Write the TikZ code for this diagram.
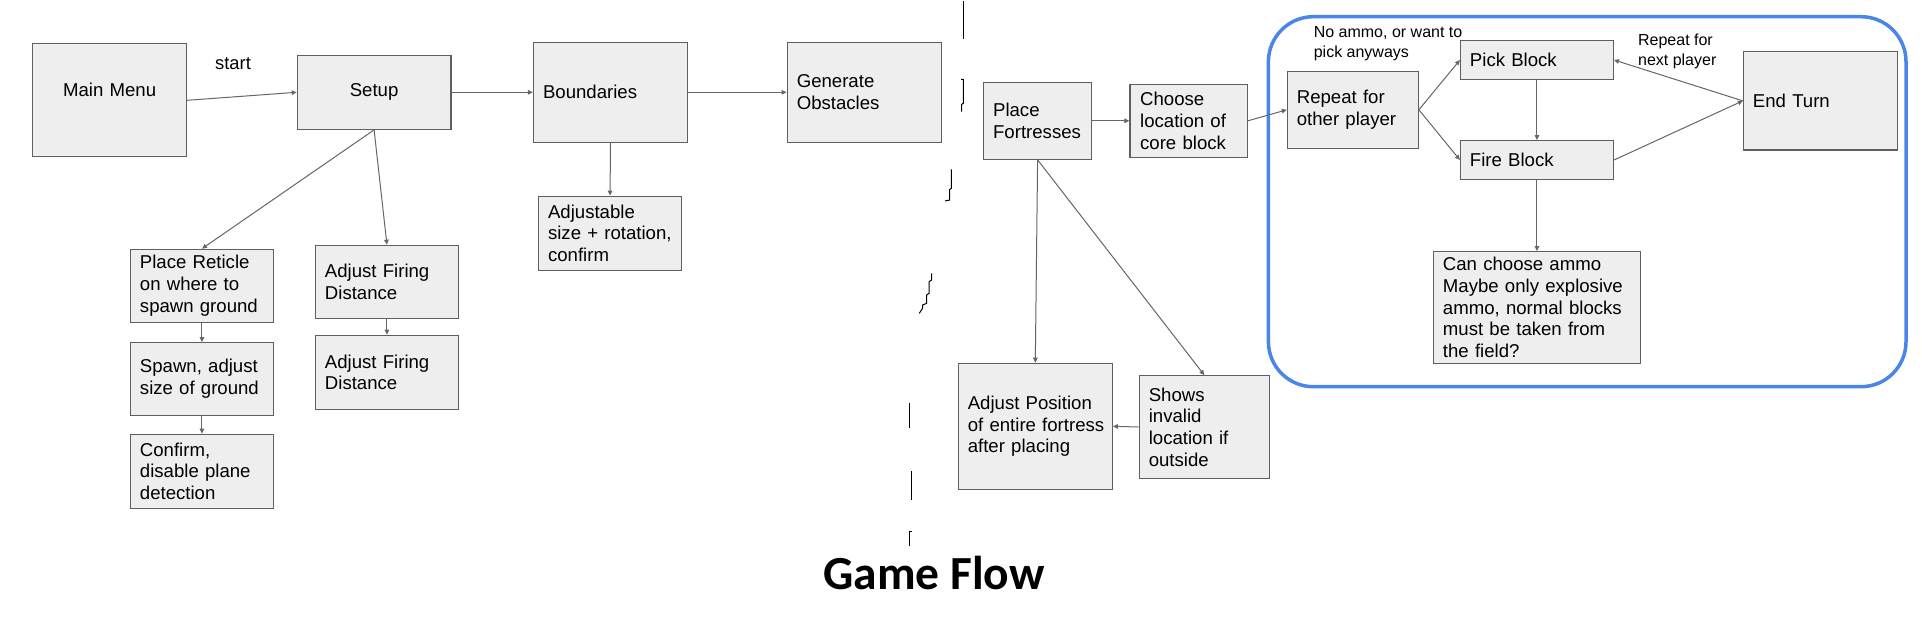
\documentclass[tikz,border=0pt]{standalone}
\usepackage{fontspec}
\setmainfont{Liberation Sans}
\newfontfamily\titlefont{Carlito}
\usetikzlibrary{arrows.meta}
\definecolor{boxfill}{HTML}{EEEEEE}
\definecolor{boxline}{HTML}{5F5F5F}
\definecolor{arrowc}{HTML}{666666}
\definecolor{loopblue}{HTML}{4A86E8}
\tikzset{
  box/.style={draw=boxline, fill=boxfill, line width=1.2pt, rectangle,
    inner xsep=0pt, inner ysep=0pt, align=left,
    font=\fontsize{18.6}{21.7}\selectfont},
  cbox/.style={box, align=center},
  arr/.style={draw=arrowc, line width=1pt, -{Triangle[length=5pt,width=4.5pt]}},
  lbl/.style={inner sep=0pt, align=left, font=\fontsize{16}{19.4}\selectfont},
  penmark/.style={draw=black, line width=1pt}
}
\begin{document}
\begin{tikzpicture}[x=1pt,y=-1pt]
\useasboundingbox[fill=white] (0,0) rectangle (1922,620);

% loop frame
\draw[loopblue, line width=3.5pt, rounded corners=45pt] (1268.4,16.7) rectangle (1906,386.7);

% boxes
\node[cbox, minimum width=154pt, minimum height=113pt, text width=135pt] (mainmenu) at (109.6,100.3) {Main Menu\\\phantom{M}};
\node[cbox, minimum width=153.6pt, minimum height=74pt, text width=134pt] (setup) at (374.1,92.3) {\raisebox{-2pt}{Setup}};
\node[box, minimum width=154pt, minimum height=100pt, text width=135pt] (bound) at (610.5,92.3) {\raisebox{-1.5pt}{Boundaries}};
\node[box, minimum width=154.2pt, minimum height=100pt, text width=135pt] (gen) at (864.3,92.3) {Generate\\Obstacles};
\node[box, minimum width=143.1pt, minimum height=74pt, text width=124pt] (adjust) at (610.05,233.3) {Adjustable\\\mbox{size + rotation,}\\confirm};
\node[box, minimum width=142.7pt, minimum height=73pt, text width=124pt] (reticle) at (201.95,285.8) {Place Reticle\\on where to\\\mbox{spawn ground}};
\node[box, minimum width=142.7pt, minimum height=72.6pt, text width=124pt] (spawn) at (201.95,379) {\mbox{Spawn, adjust}\\\mbox{size of ground}};
\node[box, minimum width=142.7pt, minimum height=74pt, text width=124pt] (confirm) at (201.95,471.3) {Confirm,\\\mbox{disable plane}\\detection};
\node[box, minimum width=143.1pt, minimum height=73pt, text width=124pt] (afdA) at (386.95,281.8) {Adjust Firing\\Distance};
\node[box, minimum width=143.1pt, minimum height=74pt, text width=124pt] (afdB) at (386.95,372.3) {Adjust Firing\\Distance};
\node[box, minimum width=107.8pt, minimum height=77pt, text width=89pt] (place) at (1037.6,120.8) {Place\\Fortresses};
\node[box, minimum width=117.3pt, minimum height=73pt, text width=97pt] (choose) at (1188.65,120.8) {Choose\\\mbox{location of}\\\mbox{core block}};
\node[box, minimum width=130.9pt, minimum height=77pt, text width=112pt] (repeat) at (1352.85,109.8) {Repeat for\\\mbox{other player}};
\node[box, minimum width=152.9pt, minimum height=38.6pt, text width=134pt] (pick) at (1536.95,60) {Pick Block};
\node[box, minimum width=152.9pt, minimum height=38.6pt, text width=134pt] (fire) at (1536.95,160) {Fire Block};
\node[box, minimum width=154.1pt, minimum height=98.3pt, text width=135pt] (endturn) at (1820.45,100.85) {\raisebox{-1.5pt}{End Turn}};
\node[box, minimum width=206.9pt, minimum height=111.6pt, text width=188pt] (ammo) at (1536.95,307.5) {\mbox{Can choose ammo}\\\mbox{Maybe only explosive}\\\mbox{ammo, normal blocks}\\\mbox{must be taken from}\\the field?};
\node[box, minimum width=154pt, minimum height=126pt, text width=135pt] (adjpos) at (1035.3,426.3) {\mbox{Adjust Position}\\\mbox{of entire fortress}\\\mbox{after placing}};
\node[box, minimum width=130pt, minimum height=102.6pt, text width=111pt] (shows) at (1204.3,427) {Shows\\invalid\\\mbox{location if}\\outside};

% labels
\node[lbl, font=\fontsize{18.4}{21}\selectfont] (startlbl) at (233,63.3) {start};
\node[lbl, anchor=west] (noammo) at (1313.6,43.5) {No ammo, or want to\\pick anyways};
\node[lbl, anchor=west] (nextpl) at (1637.9,51.2) {Repeat for\\next player};

% connectors
\draw[arr] (mainmenu.east) -- (setup.west);
\draw[arr] (setup.east) -- (bound.west);
\draw[arr] (bound.east) -- (gen.west);
\draw[arr] (bound.south) -- (adjust.north);
\draw[arr] (setup.south) -- (reticle.north);
\draw[arr] (setup.south) -- (afdA.north);
\draw[arr] (reticle.south) -- (spawn.north);
\draw[arr] (spawn.south) -- (confirm.north);
\draw[arr] (afdA.south) -- (afdB.north);
\draw[arr] (place.east) -- (choose.west);
\draw[arr] (choose.east) -- (repeat.west);
\draw[arr] (repeat.east) -- (pick.west);
\draw[arr] (repeat.east) -- (fire.west);
\draw[arr] (pick.south) -- (fire.north);
\draw[arr] (endturn.west) -- (pick.east);
\draw[arr] (fire.east) -- (endturn.west);
\draw[arr] (fire.south) -- (ammo.north);
\draw[arr] (place.south) -- (adjpos.north);
\draw[arr] (place.south) -- (shows.north);
\draw[arr] (shows.west) -- (adjpos.east);

% stray pen marks
\draw[penmark] (963.3,1) -- (963.3,39.3);
\draw[penmark] (961,79.3) -- (963.3,79.3) -- (963.3,103.3) -- (961.5,104.5) -- (961.5,111.7);
\draw[penmark] (951.3,169.3) -- (951.3,188.3) -- (949.7,189.5) -- (949.7,200) -- (945,201);
\draw[penmark] (931.7,273.3) -- (931.7,280) -- (929,281.7) -- (929,293.3) -- (926.7,295) -- (926.7,303.3) -- (922.7,305) -- (922.7,308) -- (919.3,313.3);
\draw[penmark] (909.3,403.3) -- (909.3,427.7);
\draw[penmark] (911.5,471) -- (911.5,499.7);
\draw[penmark] (912,531.7) -- (909.3,531.7) -- (909.3,545.7);

% title
\node[inner sep=0pt, anchor=base, font=\titlefont\bfseries\fontsize{47.5}{52}\selectfont] (title) at (934,589) {Game Flow};
\end{tikzpicture}
\end{document}
